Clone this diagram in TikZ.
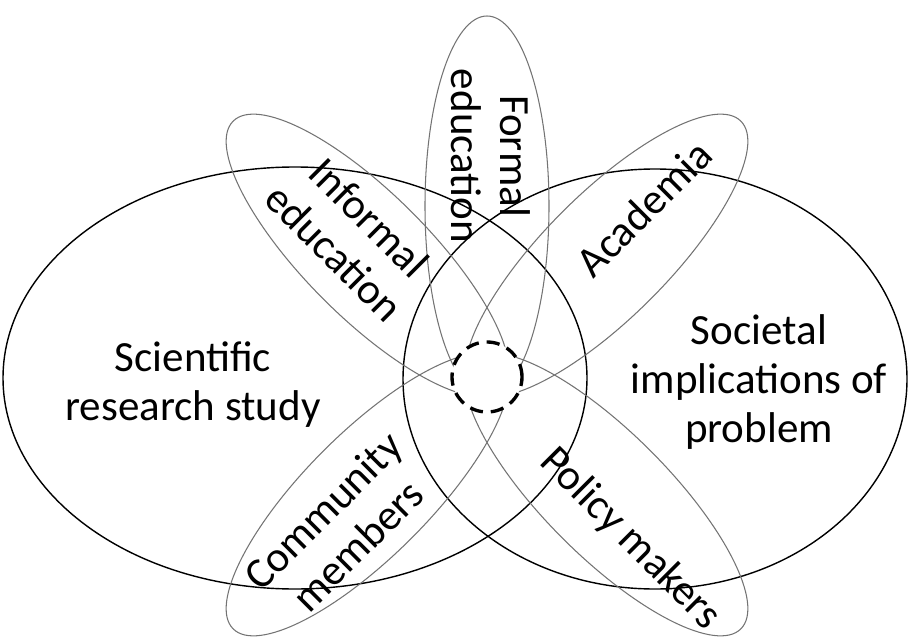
\documentclass[tikz,border=0pt]{standalone}
\usepackage{fontspec}
\setmainfont{Carlito}
\begin{document}
\begin{tikzpicture}[x=0.02cm,y=0.02cm,
  big/.style={draw=black, line width=0.8pt},
  petal/.style={draw=black!55, line width=0.6pt},
  hub/.style={draw=black, line width=1.9pt, dash pattern=on 7.5pt off 4.5pt, fill=white},
  lbl/.style={font=\fontsize{24.5}{27.9}\selectfont, align=center, inner sep=0pt}]
\useasboundingbox (0,0) rectangle (909,640);
% big ellipses
\draw[big] (295,262) ellipse [x radius=292, y radius=211];
\draw[big] (655,261) ellipse [x radius=252, y radius=210];
% petals
\foreach \a in {0,45,-45,135,-135}
  \draw[petal, rotate around={\a:(487,265)}] (487,434) ellipse [x radius=62, y radius=190];
% centre
\draw[hub] (487,263) circle [radius=35];
% labels
\node[lbl] (sci) at (193,255) {Scientific\\research study};
\node[lbl] (soc) at (759,258) {Societal\\implications of\\problem};
\node[lbl, rotate=-90] (formal) at (491,484) {Formal\\education};
\node[lbl, rotate=-45] (informal) at (352,405) {Informal\\education};
\node[lbl, rotate=45] (acad) at (644,432) {Academia};
\node[lbl, rotate=45] (comm) at (340,112) {Community\\members};
\node[lbl, rotate=-45] (policy) at (630,101) {Policy makers};
\end{tikzpicture}
\end{document}
